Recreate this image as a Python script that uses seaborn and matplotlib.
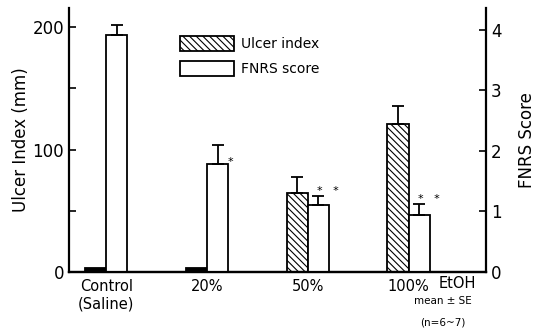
import numpy as np
import pandas as pd
import matplotlib
matplotlib.use("Agg")
import matplotlib.pyplot as plt
from matplotlib.patches import Patch
import seaborn as sns

# ---- data ----
groups = ["Control\n(Saline)", "20%", "50%", "100%"]
ulcer = [3, 3, 64.5, 121]
ulcer_se = [0, 0, 13, 14.5]
fnrs = [3.92, 1.78, 1.11, 0.94]
fnrs_se = [0.16, 0.32, 0.15, 0.18]
stars = ["", "*", "*   *", "*   *"]
measures = ["Ulcer index", "FNRS score"]

sns.set_theme(style="white")
plt.rcParams["font.family"] = ["DejaVu Sans"]
plt.rcParams["hatch.linewidth"] = 0.8
for k in ("text.color", "axes.labelcolor", "xtick.color", "ytick.color"):
    plt.rcParams[k] = "black"

fig = plt.figure(figsize=(5.41, 3.35), dpi=100)
ax1 = fig.add_axes([0.1275, 0.188, 0.771, 0.788])
ax2 = ax1.twinx()

df1 = pd.DataFrame({"group": groups, "value": ulcer, "measure": measures[0]})
df2 = pd.DataFrame({"group": groups, "value": fnrs, "measure": measures[1]})
pal = {m: "white" for m in measures}

sns.barplot(data=df1, x="group", y="value", hue="measure", hue_order=measures,
            order=groups, palette=pal, width=0.42, dodge=True, errorbar=None,
            edgecolor="black", linewidth=1.3, ax=ax1, legend=False, zorder=2)
sns.barplot(data=df2, x="group", y="value", hue="measure", hue_order=measures,
            order=groups, palette=pal, width=0.42, dodge=True, errorbar=None,
            edgecolor="black", linewidth=1.3, ax=ax2, legend=False, zorder=2)


def bars_of(ax):
    for c in ax.containers:
        if len(c) > 0:
            return list(c)
    return []


ulcer_bars = bars_of(ax1)
fnrs_bars = bars_of(ax2)

hatch = "\\\\\\\\\\"
for bar in ulcer_bars:
    bar.set_hatch(hatch)
    if bar.get_height() < 10:
        bar.set_facecolor("black")

# error bars (upper only)
for bar, se in zip(ulcer_bars, ulcer_se):
    if se > 0:
        cx = bar.get_x() + bar.get_width() / 2
        ax1.errorbar(cx, bar.get_height(), yerr=[[0], [se]], color="black",
                     lw=1.3, capsize=4, capthick=1.3, zorder=3)
for bar, se, st in zip(fnrs_bars, fnrs_se, stars):
    cx = bar.get_x() + bar.get_width() / 2
    top = bar.get_height() + se
    ax2.errorbar(cx, bar.get_height(), yerr=[[0], [se]], color="black",
                 lw=1.3, capsize=4, capthick=1.3, zorder=3)
    if st == "*":
        ax2.annotate(st, (cx, top), xytext=(7, -16), textcoords="offset points",
                     ha="left", va="bottom", fontsize=8)
    elif st:
        ax2.annotate(st, (cx, top), xytext=(7, 0), textcoords="offset points",
                     ha="center", va="bottom", fontsize=8)

ax1.set_xlim(-0.37, 3.77)
ax1.set_ylim(0, 215.5)
ax2.set_ylim(0, 4.36)

ax1.set_yticks([0, 100, 200])
ax1.set_yticks([50, 150], minor=True)
ax2.set_yticks([0, 1, 2, 3, 4])

for ax in (ax1, ax2):
    for s in ax.spines.values():
        s.set_linewidth(1.6)
        s.set_color("black")
    ax.spines["top"].set_visible(False)
    ax.tick_params(axis="y", which="both", direction="in", length=5, width=1.2,
                   colors="black", labelsize=12)
    ax.tick_params(axis="x", length=0, labelsize=10.5, pad=5, colors="black")
    ax.set_xlabel("")

ax1.tick_params(axis="y", which="both", left=True, right=False)
ax2.tick_params(axis="y", which="both", left=False, right=True)
ax1.spines["right"].set_visible(False)
ax2.spines["left"].set_visible(False)

ax1.set_ylabel("Ulcer Index (mm)", fontsize=12, labelpad=2)
ax2.set_ylabel("FNRS Score", fontsize=12, labelpad=12)

fig.text(0.845, 0.155, "EtOH", fontsize=10.5, ha="center", va="center")
fig.text(0.818, 0.100, "mean \u00b1 SE", fontsize=7.5, ha="center", va="center")
fig.text(0.818, 0.038, "(n=6~7)", fontsize=7.5, ha="center", va="center")

handles = [Patch(facecolor="white", edgecolor="black", hatch=hatch, lw=1.3),
           Patch(facecolor="white", edgecolor="black", lw=1.3)]
fig.legend(handles, measures, loc="upper left", bbox_to_anchor=(0.31, 0.93),
           frameon=False, fontsize=10, handlelength=3.9, handleheight=1.3,
           labelspacing=0.7, handletextpad=0.5)

fig.savefig("out.png", dpi=100)
